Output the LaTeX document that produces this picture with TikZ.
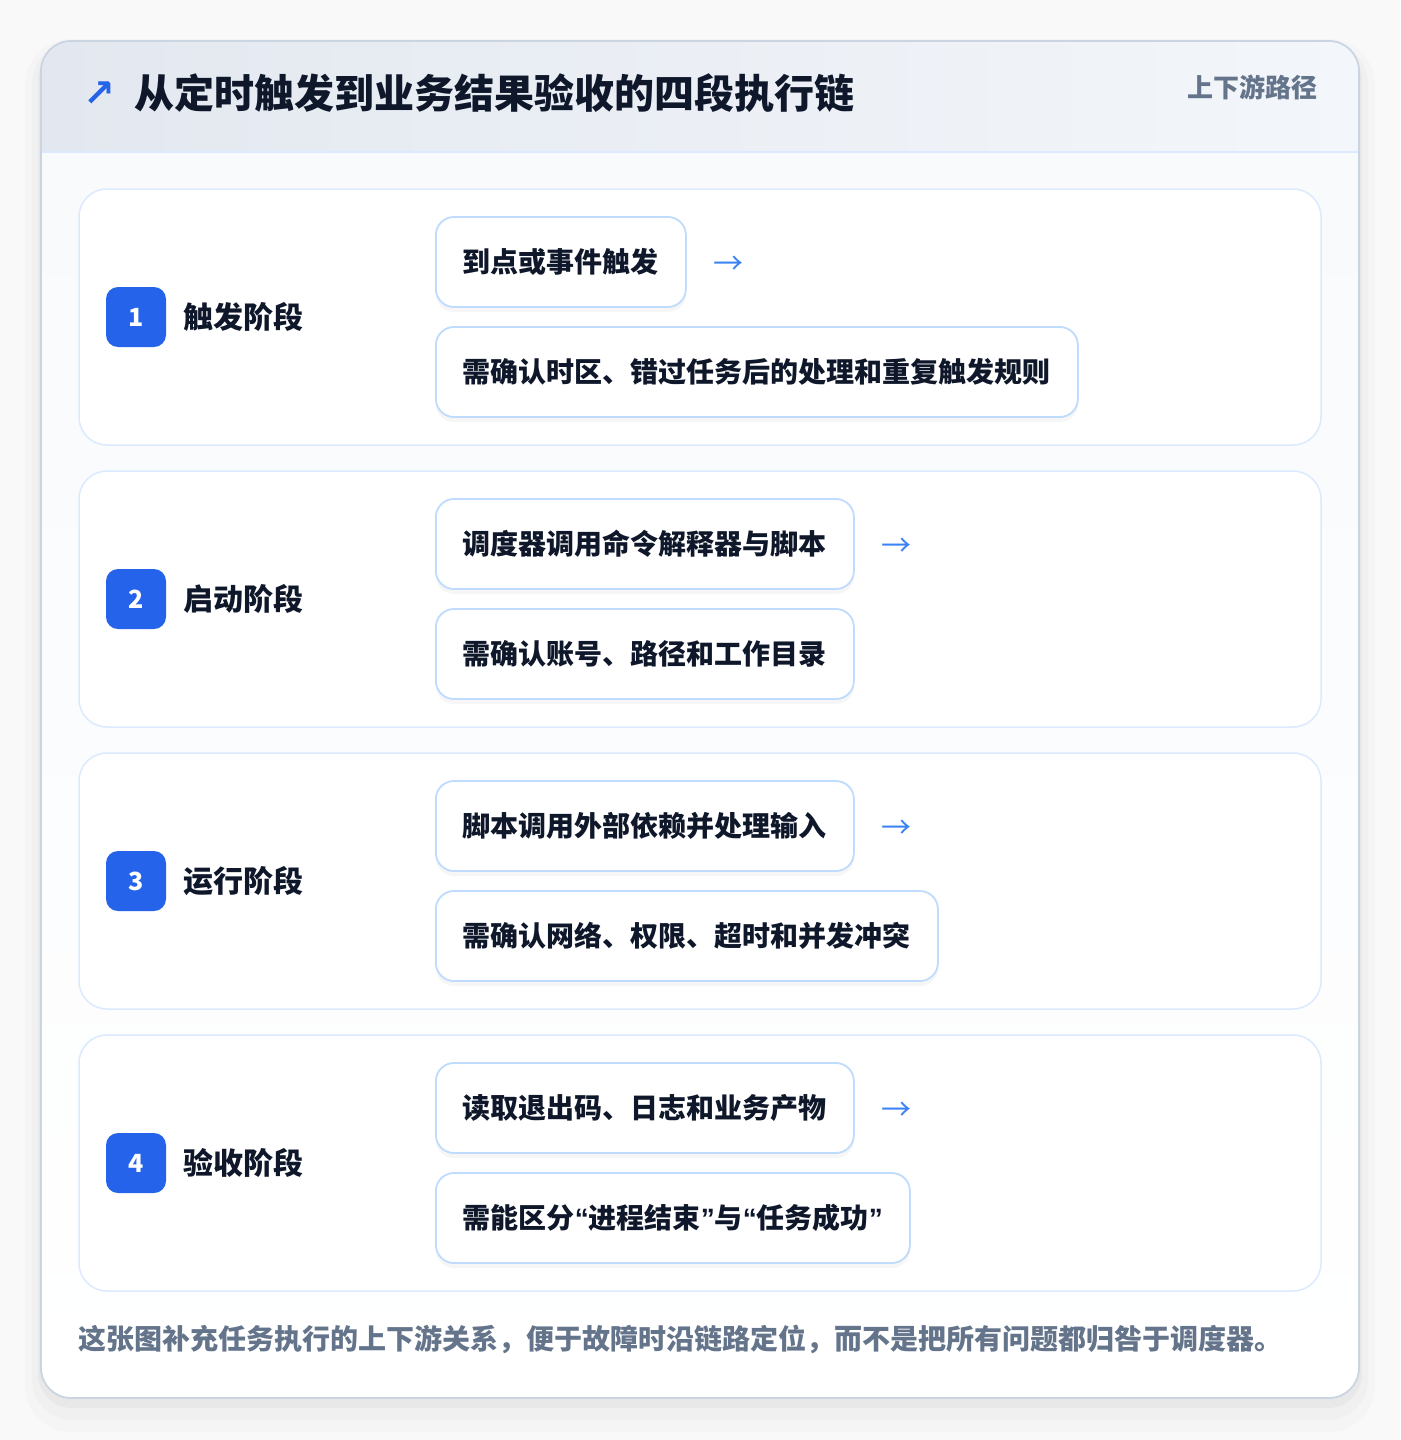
\documentclass[tikz,border=0pt]{standalone}
\usepackage{fontspec}
\setmainfont{Noto Sans CJK SC}
\newfontfamily\symfont{DejaVu Sans}
\newfontfamily\quotefont{Liberation Sans}
\usetikzlibrary{positioning,shadows}

\definecolor{ink}{HTML}{0F172A}
\definecolor{muted}{HTML}{64748B}
\definecolor{badge}{HTML}{2563EB}
\definecolor{arrowblue}{HTML}{3B82F6}
\definecolor{cardline}{HTML}{DBEAFE}
\definecolor{boxline}{HTML}{BFDBFE}
\definecolor{frameline}{HTML}{CBD5E1}
\definecolor{headl}{HTML}{E3E8F0}
\definecolor{headr}{HTML}{F3F6FA}
\definecolor{bodybg}{HTML}{F8FAFC}
\definecolor{pagebg}{HTML}{F9F9FA}

\newcommand\qopen{{\quotefont “}}
\newcommand\qclose{{\quotefont ”}}

\begin{document}
\begin{tikzpicture}[line cap=round,line join=round,x=1pt,y=-1pt,
  stagecard/.style={draw=cardline,line width=1.5pt,fill=white,rounded corners=28pt,
    minimum width=1242pt,minimum height=256pt,inner sep=0pt},
  numbadge/.style={fill=badge,rounded corners=12pt,minimum size=60pt,inner sep=0pt,
    text=white,font=\fontsize{25}{30}\selectfont\bfseries},
  stagename/.style={text=ink,font=\fontsize{30}{36}\selectfont\bfseries,inner sep=0pt},
  stepbox/.style={draw=boxline,line width=1.8pt,fill=white,rounded corners=18pt,
    minimum height=90pt,inner xsep=27pt,inner ysep=0pt,anchor=west,text=ink,
    font=\fontsize{28}{34}\selectfont\bfseries,
    drop shadow={opacity=.035,shadow xshift=0pt,shadow yshift=-5pt,fill=black}},
  flowarrow/.style={text=arrowblue,font=\fontsize{30}{34}\selectfont,inner sep=0pt}]

\def\fl{41} %frame left
\def\fr{1359} %frame right
\def\ft{41} %frame top
\def\fb{1398} %frame bottom
\def\hb{152} %header bottom
\def\bx{435} %step box left
\def\gap{282} %stage spacing

\useasboundingbox[fill=pagebg] (0,0) rectangle (1400,1440);

%frame shadow
\fill[black,opacity=.015,rounded corners=46] (\fl-16,\ft-2) rectangle (\fr+16,\fb+34);
\fill[black,opacity=.02,rounded corners=40] (\fl-9,\ft+2) rectangle (\fr+9,\fb+22);
\fill[black,opacity=.03,rounded corners=34] (\fl-3,\ft+4) rectangle (\fr+3,\fb+10);

%frame
\begin{scope}
\clip[rounded corners=30] (\fl,\ft) rectangle (\fr,\fb);
\shade[top color=bodybg,bottom color=white] (\fl,\hb) rectangle (\fr,\fb);
\shade[left color=headl,right color=headr] (\fl,\ft) rectangle (\fr,\hb);
\draw[cardline,line width=1.5pt] (\fl,\hb) -- (\fr,\hb);
\end{scope}
\draw[frameline,line width=1.8pt,rounded corners=30] (\fl,\ft) rectangle (\fr,\fb);

%header
\node[text=badge,font=\symfont\fontsize{38}{44}\selectfont\bfseries,inner sep=0pt] (icon) at (99,94) {↗};
\node[anchor=west,text=ink,font=\fontsize{40}{48}\selectfont\bfseries,inner sep=0pt] (title) at (134,93) {从定时触发到业务结果验收的四段执行链};
\node[anchor=east,text=muted,font=\fontsize{26}{32}\selectfont\bfseries,inner sep=0pt] (tag) at (1318,87) {上下游路径};

%stage 1
\node[stagecard] (card1) at (700,317) {};
\node[numbadge] (num1) at (136,317) {1};
\node[stagename,right=17pt of num1] (name1) {触发阶段};
\node[stepbox] (act1) at (\bx,262) {到点或事件触发};
\node[flowarrow,right=26pt of act1,yshift=-3pt] (go1) {→};
\node[stepbox] (chk1) at (\bx,372) {需确认时区、错过任务后的处理和重复触发规则};

%stage 2
\node[stagecard] (card2) at (700,317+\gap) {};
\node[numbadge] (num2) at (136,317+\gap) {2};
\node[stagename,right=17pt of num2] (name2) {启动阶段};
\node[stepbox] (act2) at (\bx,262+\gap) {调度器调用命令解释器与脚本};
\node[flowarrow,right=26pt of act2,yshift=-3pt] (go2) {→};
\node[stepbox] (chk2) at (\bx,372+\gap) {需确认账号、路径和工作目录};

%stage 3
\node[stagecard] (card3) at (700,317+2*\gap) {};
\node[numbadge] (num3) at (136,317+2*\gap) {3};
\node[stagename,right=17pt of num3] (name3) {运行阶段};
\node[stepbox] (act3) at (\bx,262+2*\gap) {脚本调用外部依赖并处理输入};
\node[flowarrow,right=26pt of act3,yshift=-3pt] (go3) {→};
\node[stepbox] (chk3) at (\bx,372+2*\gap) {需确认网络、权限、超时和并发冲突};

%stage 4
\node[stagecard] (card4) at (700,317+3*\gap) {};
\node[numbadge] (num4) at (136,317+3*\gap) {4};
\node[stagename,right=17pt of num4] (name4) {验收阶段};
\node[stepbox] (act4) at (\bx,262+3*\gap) {读取退出码、日志和业务产物};
\node[flowarrow,right=26pt of act4,yshift=-3pt] (go4) {→};
\node[stepbox] (chk4) at (\bx,372+3*\gap) {需能区分\qopen 进程结束\qclose 与\qopen 任务成功\qclose};

%footnote
\node[anchor=west,text=muted,font=\fontsize{28}{32}\selectfont\bfseries,inner sep=0pt] (note) at (78,1339) {这张图补充任务执行的上下游关系，便于故障时沿链路定位，而不是把所有问题都归咎于调度器。};
\end{tikzpicture}
\end{document}
